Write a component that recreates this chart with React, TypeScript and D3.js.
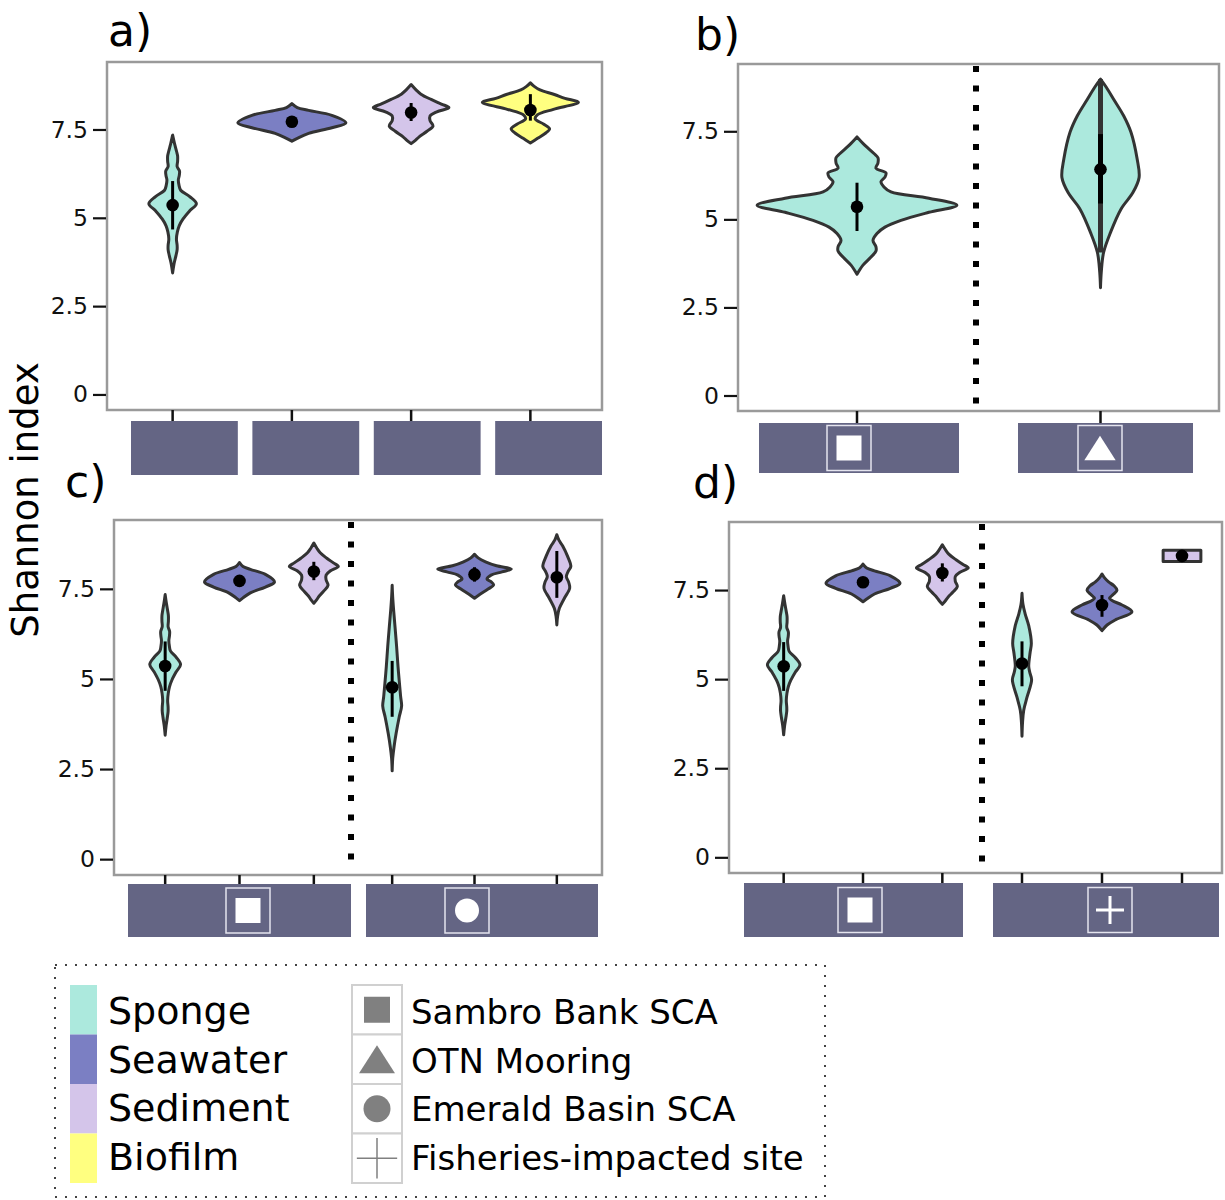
import React, { useRef, useEffect } from "react";
import * as d3 from "d3";

const W = 1225;
const H = 1200;
const FONT = "'DejaVu Sans', Verdana, sans-serif";

const sampleTypes = ["Sponge", "Seawater", "Sediment", "Biofilm"];
const typeColors = ["#ace9dd", "#7b7fc3", "#d4c5ea", "#ffff80"];
const sites = ["Sambro Bank SCA", "OTN Mooring", "Emerald Basin SCA", "Fisheries-impacted site"];
const siteShapes = ["square", "triangle", "circle", "plus"];

const yDomain = [-0.44, 9.41];
const yTicks = [0, 2.5, 5, 7.5];
const yTickLabels = ["0", "2.5", "5", "7.5"];

// density profiles: [shannon index, relative density]
const sambroSponge = [[3.44, 0], [3.7, 0.06], [3.93, 0.14], [4.1, 0.19], [4.22, 0.19], [4.4, 0.16], [4.6, 0.2], [4.78, 0.28], [4.97, 0.44], [5.2, 0.72], [5.4, 1], [5.6, 0.72], [5.78, 0.34], [5.92, 0.27], [6.07, 0.24], [6.2, 0.28], [6.32, 0.29], [6.45, 0.19], [6.6, 0.21], [6.75, 0.21], [6.87, 0.17], [7.1, 0.08], [7.34, 0]];
const sambroSeawater = [[7.17, 0], [7.25, 0.1], [7.39, 0.31], [7.55, 0.74], [7.69, 1], [7.9, 0.74], [8.04, 0.31], [8.12, 0.1], [8.23, 0]];
const sambroSediment = [[7.1, 0], [7.2, 0.12], [7.3, 0.22], [7.45, 0.42], [7.6, 0.58], [7.75, 0.5], [7.88, 0.5], [8.0, 0.68], [8.12, 1], [8.22, 0.8], [8.35, 0.53], [8.5, 0.26], [8.62, 0.13], [8.77, 0]];
const sambroBiofilm = [[7.12, 0], [7.25, 0.15], [7.4, 0.32], [7.52, 0.4], [7.65, 0.28], [7.8, 0.1], [7.92, 0.15], [8.07, 0.48], [8.27, 1], [8.38, 0.72], [8.49, 0.5], [8.62, 0.2], [8.72, 0.08], [8.82, 0]];
const otnSponge = [[3.06, 0], [3.5, 0.02], [4.06, 0.08], [4.63, 0.26], [5.29, 0.53], [5.76, 0.84], [6.19, 1], [6.71, 0.95], [7.47, 0.79], [7.94, 0.6], [8.41, 0.34], [8.75, 0.15], [8.98, 0]];
const emeraldSponge = [[2.45, 0], [2.8, 0.06], [3.12, 0.2], [3.49, 0.42], [3.95, 0.75], [4.25, 1], [4.5, 0.9], [4.79, 0.8], [5.34, 0.62], [5.9, 0.47], [6.45, 0.3], [6.92, 0.15], [7.3, 0.05], [7.6, 0]];
const emeraldSeawater = [[7.24, 0], [7.35, 0.15], [7.5, 0.38], [7.61, 0.52], [7.7, 0.45], [7.77, 0.34], [7.88, 0.45], [7.97, 0.75], [8.05, 1], [8.14, 0.6], [8.25, 0.3], [8.36, 0.1], [8.46, 0]];
const emeraldSediment = [[6.5, 0], [6.75, 0.06], [6.96, 0.18], [7.24, 0.54], [7.52, 0.92], [7.68, 0.85], [7.84, 0.68], [7.98, 0.8], [8.12, 1], [8.4, 0.77], [8.69, 0.42], [8.85, 0.15], [9.0, 0]];
const fisheriesSponge = [[3.4, 0], [3.8, 0.06], [4.13, 0.18], [4.5, 0.53], [4.98, 1], [5.2, 0.8], [5.36, 0.7], [5.74, 0.84], [6.0, 0.97], [6.5, 0.7], [6.84, 0.32], [7.1, 0.1], [7.41, 0]];
const fisheriesSeawater = [[6.36, 0], [6.52, 0.17], [6.66, 0.44], [6.89, 1], [7.08, 0.67], [7.2, 0.35], [7.27, 0.25], [7.38, 0.38], [7.5, 0.5], [7.62, 0.4], [7.73, 0.22], [7.85, 0.08], [7.95, 0]];
const fisheriesSediment = [[8.3, 1], [8.62, 1]];

// summaries: median dot, inner line (lo-hi), relative violin width
const violins = [
  { id: "sambroSponge", type: "Sponge", dens: sambroSponge, weight: 0.44, median: 5.36, lo: 4.67, hi: 6.04 },
  { id: "sambroSeawater", type: "Seawater", dens: sambroSeawater, weight: 1.0, median: 7.72, lo: 7.65, hi: 7.8 },
  { id: "sambroSediment", type: "Sediment", dens: sambroSediment, weight: 0.7, median: 7.98, lo: 7.74, hi: 8.25 },
  { id: "sambroBiofilm", type: "Biofilm", dens: sambroBiofilm, weight: 0.89, median: 8.05, lo: 7.75, hi: 8.5 },
  { id: "otnSponge", type: "Sponge", dens: otnSponge, weight: 0.17, median: 6.42, lo: 5.45, hi: 7.42, wLo: 4.06, wHi: 8.98 },
  { id: "emeraldSponge", type: "Sponge", dens: emeraldSponge, weight: 0.27, median: 4.77, lo: 3.95, hi: 5.5 },
  { id: "emeraldSeawater", type: "Seawater", dens: emeraldSeawater, weight: 1.05, median: 7.9, lo: 7.7, hi: 8.1 },
  { id: "emeraldSediment", type: "Sediment", dens: emeraldSediment, weight: 0.4, median: 7.82, lo: 7.25, hi: 8.55 },
  { id: "fisheriesSponge", type: "Sponge", dens: fisheriesSponge, weight: 0.26, median: 5.44, lo: 4.8, hi: 6.06 },
  { id: "fisheriesSeawater", type: "Seawater", dens: fisheriesSeawater, weight: 0.81, median: 7.08, lo: 6.75, hi: 7.36 },
  { id: "fisheriesSediment", type: "Sediment", dens: fisheriesSediment, weight: 0.51, median: 8.46, lo: 8.46, hi: 8.46 },
];

const panels = [
  {
    label: "a)", labelPos: [108, 46], box: [107, 62, 602, 410], strip: [421, 475], divider: null, unit: 54,
    facets: [{ ids: ["sambroSponge", "sambroSeawater", "sambroSediment", "sambroBiofilm"], range: [113, 590], stripRange: [131, 602], perGroup: true, icon: null, iconX: 0 }],
  },
  {
    label: "b)", labelPos: [695, 50], box: [738, 64, 1219, 411], strip: [423, 473], divider: 976, unit: 227,
    facets: [
      { ids: ["sambroSponge"], range: [738, 976], stripRange: [759, 959], perGroup: false, icon: "square", iconX: 849 },
      { ids: ["otnSponge"], range: [976, 1225], stripRange: [1018, 1193], perGroup: false, icon: "triangle", iconX: 1100 },
    ],
  },
  {
    label: "c)", labelPos: [65, 497], box: [114, 520, 602, 875], strip: [884, 937], divider: 351, unit: 35,
    facets: [
      { ids: ["sambroSponge", "sambroSeawater", "sambroSediment"], range: [128, 351], stripRange: [128, 351], perGroup: false, icon: "square", iconX: 248 },
      { ids: ["emeraldSponge", "emeraldSeawater", "emeraldSediment"], range: [351, 598], stripRange: [366, 598], perGroup: false, icon: "circle", iconX: 467 },
    ],
  },
  {
    label: "d)", labelPos: [693, 498], box: [729, 522, 1222, 873], strip: [883, 937], divider: 982, unit: 37,
    facets: [
      { ids: ["sambroSponge", "sambroSeawater", "sambroSediment"], range: [744, 982], stripRange: [744, 963], perGroup: false, icon: "square", iconX: 860 },
      { ids: ["fisheriesSponge", "fisheriesSeawater", "fisheriesSediment"], range: [982, 1222], stripRange: [993, 1219], perGroup: false, icon: "plus", iconX: 1110 },
    ],
  },
];

const drawShape = (g, shape, cx, cy, size, fill, thin) => {
  if (shape === "square") {
    g.append("rect").attr("x", cx - size / 2).attr("y", cy - size / 2).attr("width", size).attr("height", size).attr("fill", fill);
  } else if (shape === "triangle") {
    const h = size * 0.9;
    g.append("path").attr("d", `M${cx},${cy - h / 2}L${cx + size * 0.58},${cy + h / 2}L${cx - size * 0.58},${cy + h / 2}Z`).attr("fill", fill);
  } else if (shape === "circle") {
    g.append("circle").attr("cx", cx).attr("cy", cy).attr("r", size / 2).attr("fill", fill);
  } else {
    const a = size * 0.56;
    g.append("path").attr("d", `M${cx - a},${cy}H${cx + a}M${cx},${cy - a}V${cy + a}`).attr("stroke", fill).attr("stroke-width", thin ? 1.5 : 3);
  }
};

export default function App() {
  const svgRef = useRef<SVGSVGElement>(null);

  useEffect(() => {
    const svg = d3.select(svgRef.current);
    svg.selectAll("*").remove();
    const byId = new Map(violins.map((v) => [v.id, v]));
    const color = d3.scaleOrdinal<string, string>().domain(sampleTypes).range(typeColors);

    panels.forEach((p) => {
      const [bx0, by0, bx1, by1] = p.box;
      const g = svg.append("g");
      const y = d3.scaleLinear().domain(yDomain).range([by1, by0]);
      const w = d3.scaleLinear().domain([0, 1]).range([0, p.unit]);

      g.append("rect")
        .attr("x", bx0).attr("y", by0).attr("width", bx1 - bx0).attr("height", by1 - by0)
        .attr("fill", "#fff").attr("stroke", "#9a9a9a").attr("stroke-width", 2.5);

      const axis = g.append("g")
        .attr("transform", `translate(${bx0 - 1},0)`)
        .call(d3.axisLeft(y).tickValues(yTicks).tickFormat((d, i) => yTickLabels[i]).tickSize(13).tickPadding(5));
      axis.select(".domain").remove();
      axis.selectAll("line").attr("stroke", "#111").attr("stroke-width", 2.2);
      axis.selectAll("text").attr("font-family", FONT).attr("font-size", 23.5).attr("fill", "#111");

      if (p.divider) {
        g.append("line")
          .attr("x1", p.divider).attr("x2", p.divider).attr("y1", by0 + 2).attr("y2", by1 - 6)
          .attr("stroke", "#000").attr("stroke-width", 6).attr("stroke-dasharray", "6,13.5");
      }

      p.facets.forEach((f) => {
        const x = d3.scaleBand().domain(f.ids).range(f.range);
        const [sy0, sy1] = p.strip;

        if (f.perGroup) {
          const xs = d3.scaleBand().domain(f.ids).range(f.stripRange).paddingInner(0.12);
          g.selectAll(null).data(f.ids).join("rect")
            .attr("x", (d) => xs(d)).attr("y", sy0).attr("width", xs.bandwidth()).attr("height", sy1 - sy0)
            .attr("fill", "#646584");
        } else {
          g.append("rect")
            .attr("x", f.stripRange[0]).attr("y", sy0).attr("width", f.stripRange[1] - f.stripRange[0]).attr("height", sy1 - sy0)
            .attr("fill", "#646584");
        }
        if (f.icon) {
          const cy = (sy0 + sy1) / 2;
          g.append("rect").attr("x", f.iconX - 22).attr("y", cy - 22.5).attr("width", 44).attr("height", 45)
            .attr("fill", "none").attr("stroke", "#e4e4ee").attr("stroke-width", 1.5);
          drawShape(g, f.icon, f.iconX, cy, f.icon === "circle" ? 24 : f.icon === "triangle" ? 27 : 25, "#fff", false);
        }

        f.ids.forEach((id) => {
          const v = byId.get(id);
          const cx = x(id) + x.bandwidth() / 2;

          g.append("line").attr("x1", cx).attr("x2", cx).attr("y1", by1).attr("y2", sy0)
            .attr("stroke", "#111").attr("stroke-width", 2.5);

          const area = d3.area<number[]>()
            .y((d) => y(d[0]))
            .x0((d) => cx - w(v.weight * d[1]))
            .x1((d) => cx + w(v.weight * d[1]))
            .curve(v.dens.length > 2 ? d3.curveCatmullRom.alpha(0.5) : d3.curveLinear);
          g.append("path").attr("d", area(v.dens))
            .attr("fill", color(v.type)).attr("stroke", "#333").attr("stroke-width", 3).attr("stroke-linejoin", "round");

          if (v.wLo !== undefined) {
            g.append("line").attr("x1", cx).attr("x2", cx).attr("y1", y(v.wLo)).attr("y2", y(v.wHi))
              .attr("stroke", "#333").attr("stroke-width", 5);
            g.append("line").attr("x1", cx).attr("x2", cx).attr("y1", y(v.lo)).attr("y2", y(v.hi))
              .attr("stroke", "#000").attr("stroke-width", 5);
          } else if (v.hi > v.lo) {
            g.append("line").attr("x1", cx).attr("x2", cx).attr("y1", y(v.lo)).attr("y2", y(v.hi))
              .attr("stroke", "#000").attr("stroke-width", 3);
          }
          g.append("circle").attr("cx", cx).attr("cy", y(v.median)).attr("r", 6.3).attr("fill", "#000");
        });
      });

      g.append("text").attr("x", p.labelPos[0]).attr("y", p.labelPos[1])
        .attr("font-family", FONT).attr("font-size", 44).attr("fill", "#000").text(p.label);
    });

    svg.append("text")
      .attr("transform", "translate(38,500) rotate(-90)")
      .attr("text-anchor", "middle").attr("font-family", FONT).attr("font-size", 37).attr("fill", "#000")
      .text("Shannon index");

    // legend
    const lg = svg.append("g");
    lg.append("rect").attr("x", 55).attr("y", 965).attr("width", 770).attr("height", 232)
      .attr("fill", "none").attr("stroke", "#444").attr("stroke-width", 2).attr("stroke-dasharray", "2,8");
    const rowH = 49.5;
    const top = 985;
    lg.selectAll(null).data(sampleTypes).join("rect")
      .attr("x", 70).attr("y", (d, i) => top + i * rowH).attr("width", 27).attr("height", rowH)
      .attr("fill", (d) => color(d));
    lg.selectAll(null).data(sampleTypes).join("text")
      .attr("x", 108).attr("y", (d, i) => 1024 + i * 48.5)
      .attr("font-family", FONT).attr("font-size", 38).attr("fill", "#000").text((d) => d);

    sites.forEach((s, i) => {
      const cy = top + i * rowH + rowH / 2;
      lg.append("rect").attr("x", 352).attr("y", top + i * rowH).attr("width", 50).attr("height", rowH)
        .attr("fill", "#fff").attr("stroke", "#d0d0d0").attr("stroke-width", 2);
      drawShape(lg, siteShapes[i], 377, cy, siteShapes[i] === "triangle" ? 31 : siteShapes[i] === "circle" ? 27 : siteShapes[i] === "plus" ? 36 : 26, "#808080", true);
      lg.append("text").attr("x", 411).attr("y", 1024 + i * 48.5)
        .attr("font-family", FONT).attr("font-size", 34).attr("fill", "#000").text(s);
    });
  }, []);

  return (
    <svg ref={svgRef} width={W} height={H} style={{ position: "absolute", left: 0, top: 0, display: "block", background: "#fff" }} />
  );
}
